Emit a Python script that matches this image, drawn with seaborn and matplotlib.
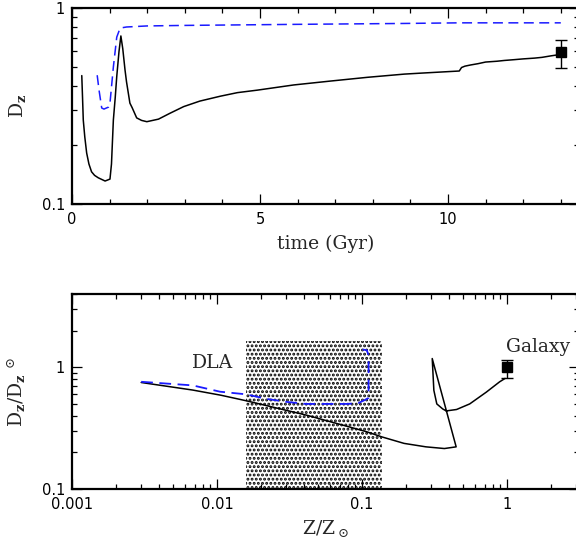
import matplotlib
matplotlib.use("Agg")
import matplotlib.pyplot as plt
import seaborn as sns
import numpy as np
import pandas as pd
from matplotlib.ticker import FixedLocator, NullFormatter, LogLocator, FixedFormatter

# ---------------- data ----------------
# top panel: dust-to-metals ratio vs time
time_solid = [0.26, 0.28, 0.30, 0.34, 0.39, 0.45, 0.52, 0.60, 0.70, 0.88, 1.01, 1.05,
              1.10, 1.15, 1.19, 1.25, 1.30, 1.35, 1.41, 1.45, 1.54, 1.60, 1.72, 1.85,
              1.99, 2.30, 2.60, 2.97, 3.40, 3.95, 4.40, 4.93, 5.90, 6.88, 7.86, 8.84,
              9.26, 10.30, 10.36, 10.45, 10.60, 10.80, 11.00, 11.30, 11.50, 11.76,
              12.00, 12.30, 12.50, 12.74, 12.90]
dz_solid = [0.452, 0.350, 0.268, 0.220, 0.182, 0.160, 0.146, 0.140, 0.136, 0.131, 0.134,
            0.160, 0.268, 0.350, 0.447, 0.600, 0.720, 0.620, 0.483, 0.420, 0.327, 0.310,
            0.275, 0.267, 0.263, 0.271, 0.290, 0.314, 0.335, 0.355, 0.370, 0.381, 0.405,
            0.424, 0.443, 0.460, 0.465, 0.477, 0.497, 0.505, 0.512, 0.520, 0.530, 0.535,
            0.540, 0.545, 0.550, 0.555, 0.560, 0.570, 0.576]

time_dash = [0.67, 0.72, 0.79, 0.85, 0.90, 0.97, 1.01, 1.10, 1.19, 1.28, 1.45, 2.0, 3.0,
             5.9, 8.84, 10.3, 13.0]
dz_dash = [0.454, 0.380, 0.309, 0.305, 0.308, 0.312, 0.327, 0.500, 0.710, 0.790, 0.800,
           0.810, 0.815, 0.825, 0.834, 0.840, 0.840]

gal_time = [13.0]
gal_dz = [0.595]
gal_dz_err_lo = [0.10]
gal_dz_err_hi = [0.095]

# bottom panel: normalised dust-to-metals vs metallicity
zz_solid = [0.003, 0.0068, 0.0106, 0.016, 0.022, 0.030, 0.0415, 0.06, 0.08, 0.108, 0.137,
            0.195, 0.276, 0.37, 0.446, 0.305, 0.313, 0.328, 0.36, 0.381, 0.449, 0.553,
            0.72, 0.89, 0.97]
dn_solid = [0.75, 0.65, 0.59, 0.53, 0.484, 0.443, 0.404, 0.358, 0.326, 0.295, 0.268,
            0.237, 0.222, 0.215, 0.222, 1.18, 0.647, 0.50, 0.455, 0.438, 0.45, 0.50,
            0.625, 0.76, 0.81]

zz_dash = [0.003, 0.0068, 0.0105, 0.0158, 0.022, 0.030, 0.041, 0.054, 0.08, 0.095, 0.105,
           0.111, 0.111, 0.108, 0.101]
dn_dash = [0.76, 0.71, 0.63, 0.60, 0.55, 0.52, 0.50, 0.50, 0.50, 0.51, 0.54, 0.56, 1.25,
           1.38, 1.40]

gal_z = [1.0]
gal_dn = [1.0]
gal_dn_err_lo = [0.18]
gal_dn_err_hi = [0.14]

dla_z_range = [0.0158, 0.138]
dla_dn_range = [0.1, 1.63]

# ---------------- style ----------------
sns.set_theme(style="ticks")
plt.rcParams["font.family"] = ["DejaVu Serif", "DejaVu Sans"]
plt.rcParams["mathtext.fontset"] = "dejavuserif"
plt.rcParams["hatch.linewidth"] = 1.4
plt.rcParams["hatch.color"] = "black"

fig = plt.figure(figsize=(5.76, 5.48), dpi=100)
W, H = 576.0, 548.0
AXW = 507
ax1 = fig.add_axes([72 / W, (H - 204) / H, AXW / W, 196 / H])
ax2 = fig.add_axes([72 / W, (H - 489) / H, AXW / W, 195 / H])

BLUE = "#1a1aff"

def style_axes(ax):
    for s in ax.spines.values():
        s.set_linewidth(1.6)
        s.set_color("black")
    ax.tick_params(which="both", direction="in", top=True, right=True,
                   color="black", width=0.9, labelsize=10.5, labelcolor="black")
    ax.tick_params(which="major", length=7)
    ax.tick_params(which="minor", length=3.5)
    ax.tick_params(axis="x", which="major", pad=6)
    ax.tick_params(axis="y", which="major", pad=5)
    for lab in ax.get_xticklabels() + ax.get_yticklabels():
        lab.set_family("DejaVu Sans")

# ---------------- top panel ----------------
df_top_s = pd.DataFrame({"t": time_solid, "d": dz_solid})
df_top_d = pd.DataFrame({"t": time_dash, "d": dz_dash})
sns.lineplot(data=df_top_s, x="t", y="d", ax=ax1, sort=False, estimator=None,
             color="black", lw=1.1)
sns.lineplot(data=df_top_d, x="t", y="d", ax=ax1, sort=False, estimator=None,
             color=BLUE, lw=1.1, dashes=False)
ax1.lines[-1].set_dashes((6.5, 3.6))
ax1.errorbar(gal_time, gal_dz, yerr=[gal_dz_err_lo, gal_dz_err_hi], fmt="s",
             color="black", ms=6.5, capsize=4.5, elinewidth=1, capthick=1)
ax1.set_yscale("log")
ax1.set_xlim(0, AXW / 37.6)
ax1.set_ylim(0.1, 1)
ax1.xaxis.set_major_locator(FixedLocator([0, 5, 10]))
ax1.xaxis.set_minor_locator(FixedLocator(list(range(0, 14))))
ax1.yaxis.set_major_locator(FixedLocator([0.1, 1]))
ax1.yaxis.set_major_formatter(FixedFormatter(["0.1", "1"]))
ax1.yaxis.set_minor_locator(LogLocator(base=10, subs=np.arange(2, 10)))
ax1.yaxis.set_minor_formatter(NullFormatter())
ax1.set_xlabel("time (Gyr)", fontsize=13.5, labelpad=5)
ax1.set_ylabel(r"D$_\mathbf{z}$", fontsize=13.5, labelpad=10)
style_axes(ax1)

# ---------------- bottom panel ----------------
ax2.fill_between(dla_z_range, dla_dn_range[0], dla_dn_range[1], facecolor="none",
                 edgecolor="black", linewidth=0, hatch="....")
df_bot_s = pd.DataFrame({"z": zz_solid, "d": dn_solid})
df_bot_d = pd.DataFrame({"z": zz_dash, "d": dn_dash})
sns.lineplot(data=df_bot_s, x="z", y="d", ax=ax2, sort=False, estimator=None,
             color="black", lw=1.1)
sns.lineplot(data=df_bot_d, x="z", y="d", ax=ax2, sort=False, estimator=None,
             color=BLUE, lw=1.3, dashes=False)
ax2.lines[-1].set_dashes((6.5, 3.6))
ax2.errorbar(gal_z, gal_dn, yerr=[gal_dn_err_lo, gal_dn_err_hi], fmt="s",
             color="black", ms=6.5, capsize=4.5, elinewidth=1, capthick=1)
ax2.set_xscale("log")
ax2.set_yscale("log")
ax2.set_xlim(0.001, 0.001 * 10 ** (AXW / 145.0))
ax2.set_ylim(0.1, 4)
ax2.xaxis.set_major_locator(FixedLocator([0.001, 0.01, 0.1, 1]))
ax2.xaxis.set_major_formatter(FixedFormatter(["0.001", "0.01", "0.1", "1"]))
ax2.xaxis.set_minor_locator(LogLocator(base=10, subs=np.arange(2, 10)))
ax2.xaxis.set_minor_formatter(NullFormatter())
ax2.yaxis.set_major_locator(FixedLocator([0.1, 1]))
ax2.yaxis.set_major_formatter(FixedFormatter(["0.1", "1"]))
ax2.yaxis.set_minor_locator(LogLocator(base=10, subs=np.arange(2, 10)))
ax2.yaxis.set_minor_formatter(NullFormatter())
ax2.set_xlabel(r"Z/Z$_\odot$", fontsize=13.5, labelpad=4)
ax2.set_ylabel(r"D$_\mathbf{z}$/D$_\mathbf{z}$ $^{\odot}$", fontsize=13.5, labelpad=10)
ax2.text(0.00938, 1.08, "DLA", fontsize=13.5, ha="center", va="center")
ax2.text(0.99, 1.46, "Galaxy", fontsize=13.5, ha="left", va="center")
style_axes(ax2)

fig.savefig("out.png", dpi=100)
